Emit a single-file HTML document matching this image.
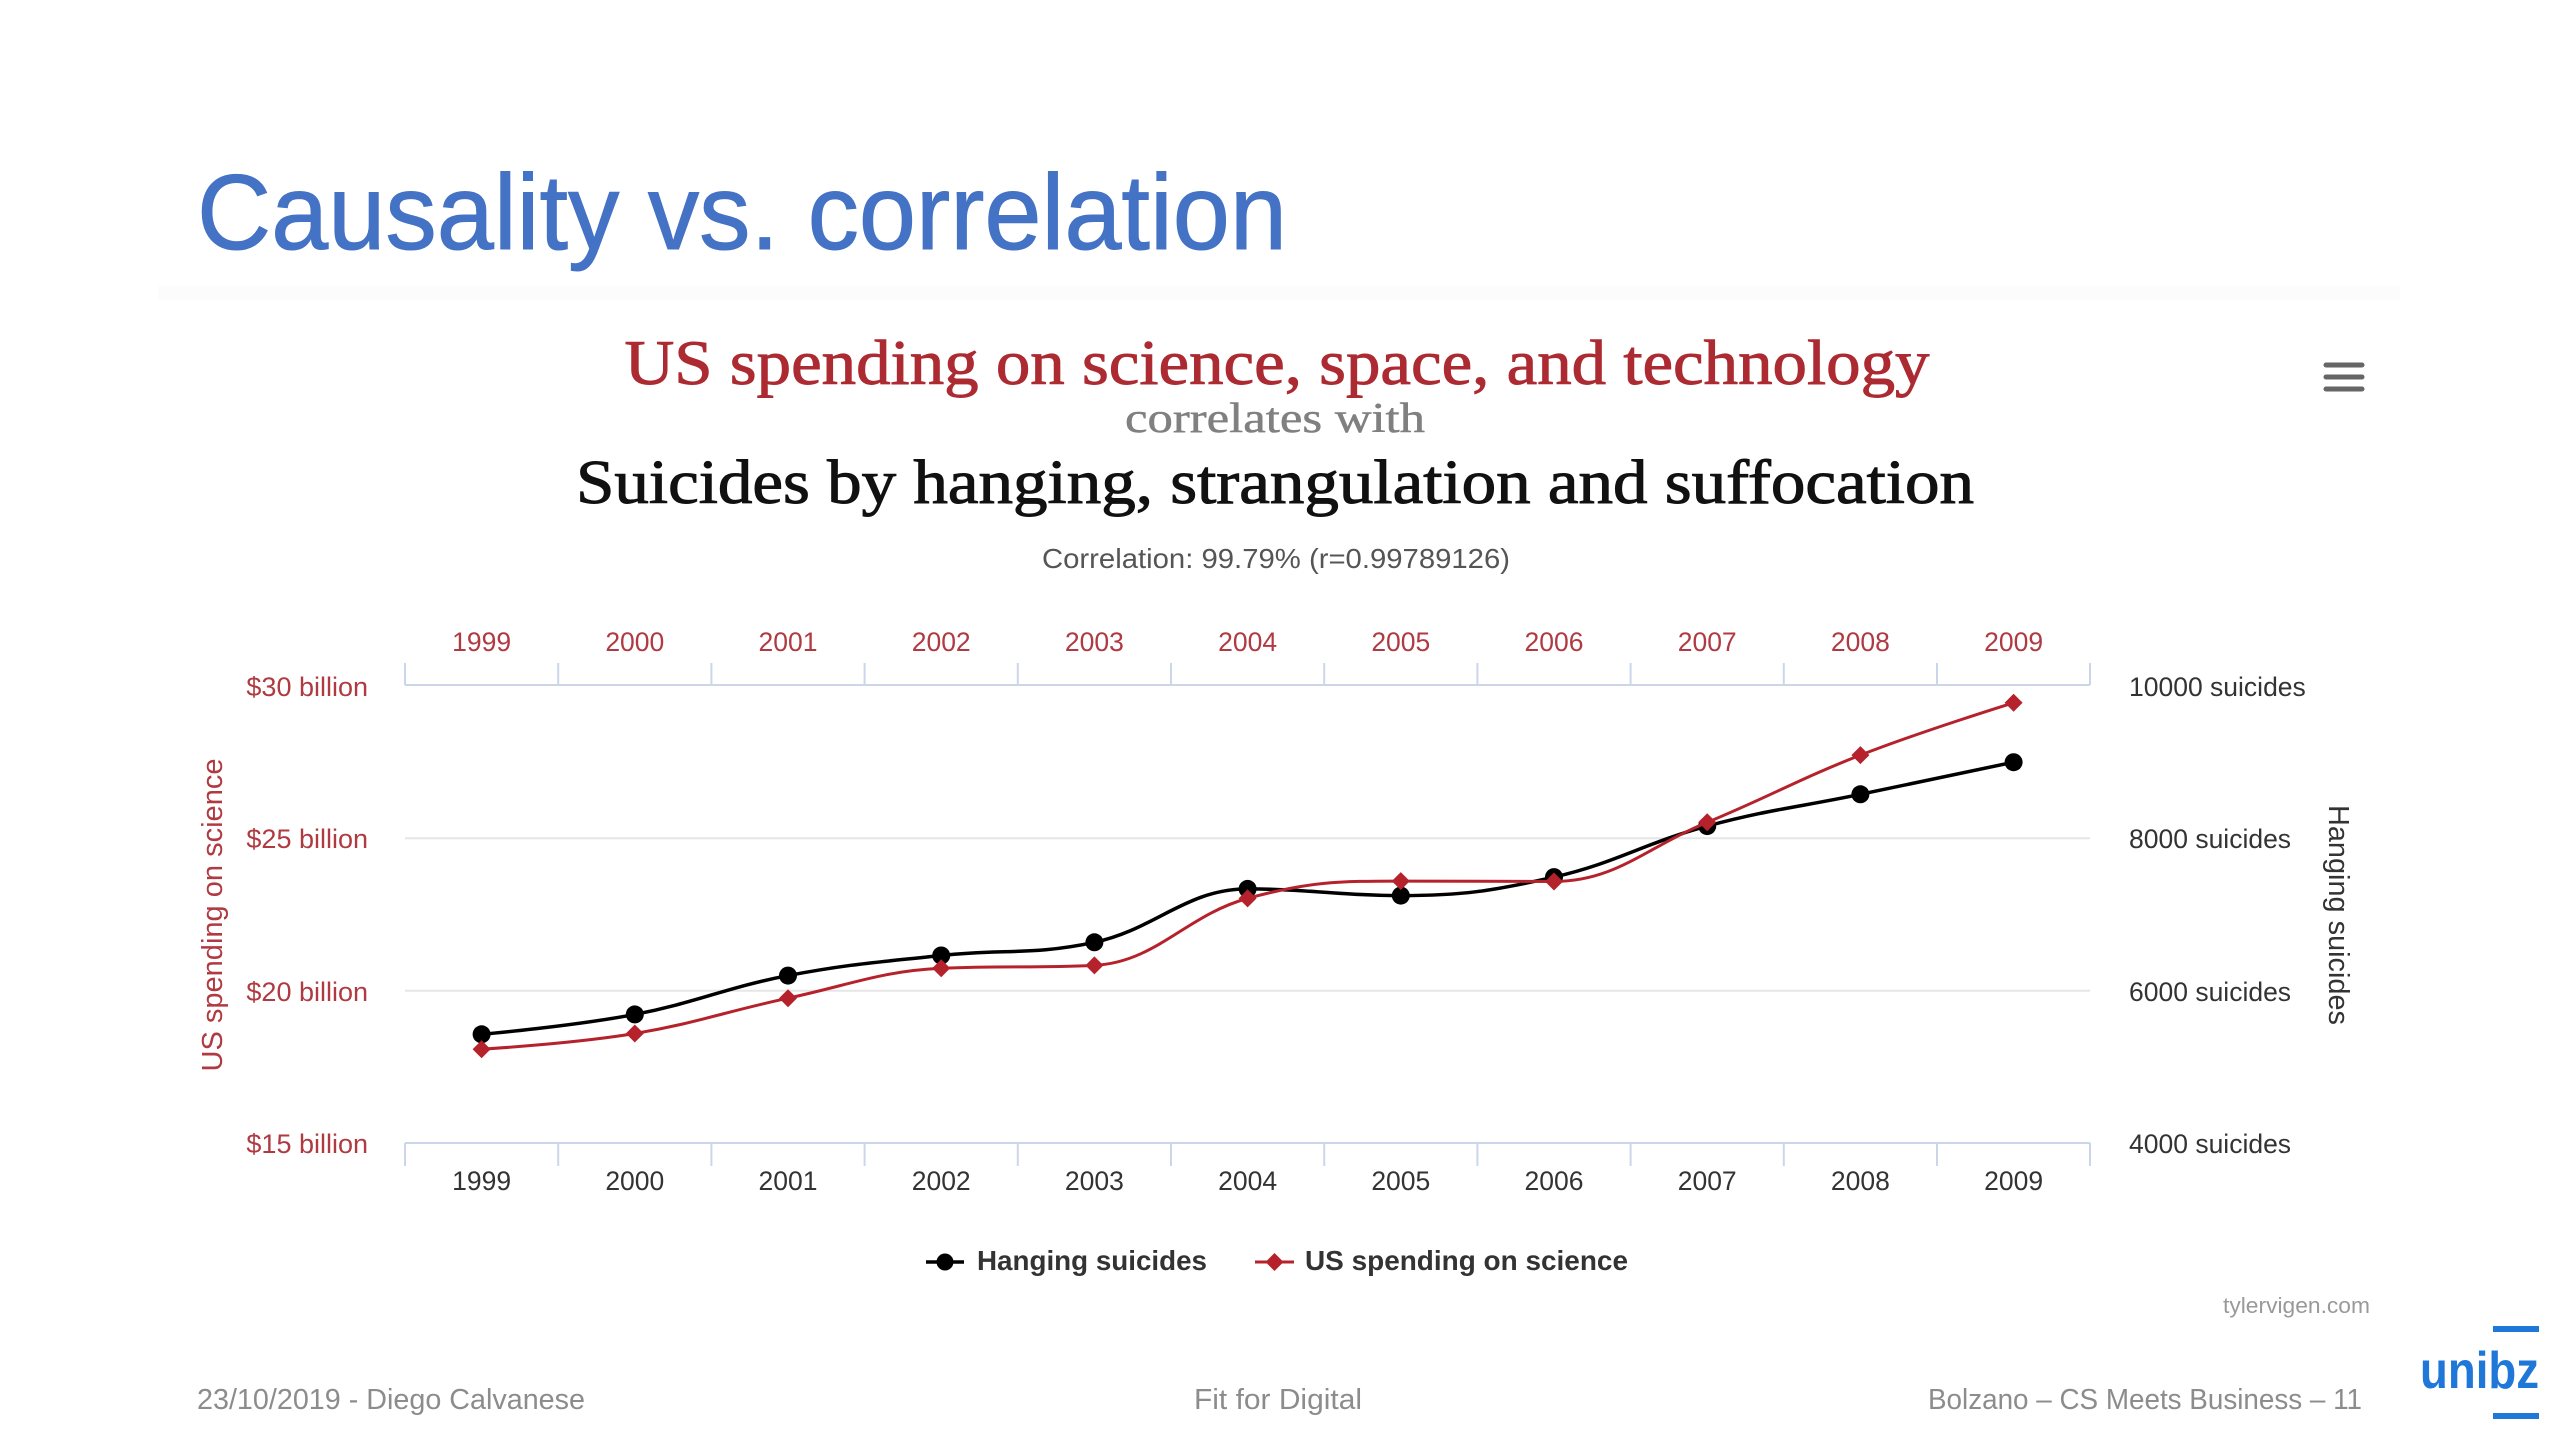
<!DOCTYPE html>
<html>
<head>
<meta charset="utf-8">
<style>
  html, body { margin: 0; padding: 0; background: #ffffff; }
  body { width: 2560px; height: 1440px; overflow: hidden; }
  svg { display: block; }
  .sans { font-family: "Liberation Sans", "DejaVu Sans", sans-serif; }
  .serif { font-family: "Liberation Serif", "DejaVu Serif", serif; }
</style>
</head>
<body>
<svg width="2560" height="1440" viewBox="0 0 2560 1440" xmlns="http://www.w3.org/2000/svg">
  <rect x="0" y="0" width="2560" height="1440" fill="#ffffff"/>

  <!-- Slide title -->
  <text class="sans" x="197" y="249" font-size="107" fill="#4472c4" stroke="#4472c4" stroke-width="1" textLength="1090" lengthAdjust="spacingAndGlyphs">Causality vs. correlation</text>

  <!-- faint chart image top band -->
  <rect x="158" y="286" width="2242" height="14" fill="#fcfcfc"/>

  <!-- Chart titles -->
  <text class="serif" x="1277" y="384" font-size="64" fill="#ac2a31" stroke="#ac2a31" stroke-width="0.9" text-anchor="middle" textLength="1305" lengthAdjust="spacingAndGlyphs">US spending on science, space, and technology</text>
  <text class="serif" x="1275" y="432" font-size="42" fill="#808080" stroke="#808080" stroke-width="0.5" text-anchor="middle" textLength="300" lengthAdjust="spacingAndGlyphs">correlates with</text>
  <text class="serif" x="1275" y="503" font-size="62" fill="#111111" stroke="#111111" stroke-width="1" text-anchor="middle" textLength="1398" lengthAdjust="spacingAndGlyphs">Suicides by hanging, strangulation and suffocation</text>
  <text class="sans" x="1276" y="568" font-size="28" fill="#555555" text-anchor="middle" textLength="468" lengthAdjust="spacingAndGlyphs">Correlation: 99.79% (r=0.99789126)</text>

  <!-- Hamburger menu -->
  <g stroke="#666666" stroke-width="5" stroke-linecap="round">
    <line x1="2326" y1="365" x2="2362" y2="365"/>
    <line x1="2326" y1="377" x2="2362" y2="377"/>
    <line x1="2326" y1="389" x2="2362" y2="389"/>
  </g>

  <!-- Gridlines -->
  <g stroke="#e6e6e6" stroke-width="2">
    <line x1="405" y1="838.3" x2="2090" y2="838.3"/>
    <line x1="405" y1="990.7" x2="2090" y2="990.7"/>
  </g>

  <!-- Top axis -->
  <g stroke="#ccd6eb" stroke-width="2">
    <line x1="405" y1="685" x2="2090" y2="685"/>
    <line x1="405" y1="663" x2="405" y2="685"/>
    <line x1="558.2" y1="663" x2="558.2" y2="685"/>
    <line x1="711.4" y1="663" x2="711.4" y2="685"/>
    <line x1="864.6" y1="663" x2="864.6" y2="685"/>
    <line x1="1017.8" y1="663" x2="1017.8" y2="685"/>
    <line x1="1171" y1="663" x2="1171" y2="685"/>
    <line x1="1324.2" y1="663" x2="1324.2" y2="685"/>
    <line x1="1477.4" y1="663" x2="1477.4" y2="685"/>
    <line x1="1630.6" y1="663" x2="1630.6" y2="685"/>
    <line x1="1783.8" y1="663" x2="1783.8" y2="685"/>
    <line x1="1937" y1="663" x2="1937" y2="685"/>
    <line x1="2090" y1="663" x2="2090" y2="685"/>
  </g>
  <!-- Bottom axis -->
  <g stroke="#ccd6eb" stroke-width="2">
    <line x1="405" y1="1143" x2="2090" y2="1143"/>
    <line x1="405" y1="1143" x2="405" y2="1166"/>
    <line x1="558.2" y1="1143" x2="558.2" y2="1166"/>
    <line x1="711.4" y1="1143" x2="711.4" y2="1166"/>
    <line x1="864.6" y1="1143" x2="864.6" y2="1166"/>
    <line x1="1017.8" y1="1143" x2="1017.8" y2="1166"/>
    <line x1="1171" y1="1143" x2="1171" y2="1166"/>
    <line x1="1324.2" y1="1143" x2="1324.2" y2="1166"/>
    <line x1="1477.4" y1="1143" x2="1477.4" y2="1166"/>
    <line x1="1630.6" y1="1143" x2="1630.6" y2="1166"/>
    <line x1="1783.8" y1="1143" x2="1783.8" y2="1166"/>
    <line x1="1937" y1="1143" x2="1937" y2="1166"/>
    <line x1="2090" y1="1143" x2="2090" y2="1166"/>
  </g>

  <!-- Top year labels (red) -->
  <g class="sans" font-size="26.5" fill="#b03a42" text-anchor="middle">
    <text x="481.6" y="651">1999</text>
    <text x="634.8" y="651">2000</text>
    <text x="788" y="651">2001</text>
    <text x="941.2" y="651">2002</text>
    <text x="1094.4" y="651">2003</text>
    <text x="1247.6" y="651">2004</text>
    <text x="1400.8" y="651">2005</text>
    <text x="1554" y="651">2006</text>
    <text x="1707.2" y="651">2007</text>
    <text x="1860.4" y="651">2008</text>
    <text x="2013.6" y="651">2009</text>
  </g>
  <!-- Bottom year labels -->
  <g class="sans" font-size="26.5" fill="#333333" text-anchor="middle">
    <text x="481.6" y="1190">1999</text>
    <text x="634.8" y="1190">2000</text>
    <text x="788" y="1190">2001</text>
    <text x="941.2" y="1190">2002</text>
    <text x="1094.4" y="1190">2003</text>
    <text x="1247.6" y="1190">2004</text>
    <text x="1400.8" y="1190">2005</text>
    <text x="1554" y="1190">2006</text>
    <text x="1707.2" y="1190">2007</text>
    <text x="1860.4" y="1190">2008</text>
    <text x="2013.6" y="1190">2009</text>
  </g>

  <!-- Left axis labels -->
  <g class="sans" font-size="27" fill="#b03a42" text-anchor="end">
    <text x="368" y="696">$30 billion</text>
    <text x="368" y="848">$25 billion</text>
    <text x="368" y="1001">$20 billion</text>
    <text x="368" y="1153">$15 billion</text>
  </g>
  <text class="sans" font-size="29" fill="#b03a42" text-anchor="middle" transform="translate(222,915) rotate(-90)" textLength="313" lengthAdjust="spacingAndGlyphs">US spending on science</text>

  <!-- Right axis labels -->
  <g class="sans" font-size="26.5" fill="#333333">
    <text x="2129" y="696">10000 suicides</text>
    <text x="2129" y="848">8000 suicides</text>
    <text x="2129" y="1001">6000 suicides</text>
    <text x="2129" y="1153">4000 suicides</text>
  </g>
  <text class="sans" font-size="29" fill="#333333" text-anchor="middle" transform="translate(2329,915) rotate(90)" textLength="220" lengthAdjust="spacingAndGlyphs">Hanging suicides</text>

  <!-- Series: Hanging suicides (black) -->
  <path id="lineB" fill="none" stroke="#000000" stroke-width="3.5" stroke-linejoin="round" stroke-linecap="round"
    d="M481.6 1034.31 L634.8 1014.43 L788 975.59 L941.2 955.48 L1094.4 942.3 L1247.6 888.91 L1400.8 895.61 L1554 877.1 L1707.2 826.07 L1860.4 794.31 L2013.6 762.17"/>
  <g fill="#000000">
    <circle cx="481.6" cy="1034.3" r="9"/>
    <circle cx="634.8" cy="1014.4" r="9"/>
    <circle cx="788" cy="975.6" r="9"/>
    <circle cx="941.2" cy="955.5" r="9"/>
    <circle cx="1094.4" cy="942.3" r="9"/>
    <circle cx="1247.6" cy="888.9" r="9"/>
    <circle cx="1400.8" cy="895.6" r="9"/>
    <circle cx="1554" cy="877.1" r="9"/>
    <circle cx="1707.2" cy="826.1" r="9"/>
    <circle cx="1860.4" cy="794.3" r="9"/>
    <circle cx="2013.6" cy="762.2" r="9"/>
  </g>

  <!-- Series: US spending on science (red) -->
  <path id="lineR" fill="none" stroke="#b5222b" stroke-width="3" stroke-linejoin="round" stroke-linecap="round"
    d="M481.6 1049.19 L634.8 1033.5 L788 998.19 L941.2 968.3 L1094.4 965.35 L1247.6 898.38 L1400.8 881.08 L1554 881.47 L1707.2 822.34 L1860.4 755.13 L2013.6 702.78"/>
  <g fill="#b5222b">
    <path d="M481.6 1040.2l9 9l-9 9l-9 -9z"/>
    <path d="M634.8 1024.5l9 9l-9 9l-9 -9z"/>
    <path d="M788 989.2l9 9l-9 9l-9 -9z"/>
    <path d="M941.2 959.3l9 9l-9 9l-9 -9z"/>
    <path d="M1094.4 956.4l9 9l-9 9l-9 -9z"/>
    <path d="M1247.6 889.4l9 9l-9 9l-9 -9z"/>
    <path d="M1400.8 872.1l9 9l-9 9l-9 -9z"/>
    <path d="M1554 872.5l9 9l-9 9l-9 -9z"/>
    <path d="M1707.2 813.3l9 9l-9 9l-9 -9z"/>
    <path d="M1860.4 746.1l9 9l-9 9l-9 -9z"/>
    <path d="M2013.6 693.8l9 9l-9 9l-9 -9z"/>
  </g>

  <!-- Legend -->
  <line x1="926" y1="1262" x2="964" y2="1262" stroke="#000000" stroke-width="3.5"/>
  <circle cx="945" cy="1262" r="8.5" fill="#000000"/>
  <text class="sans" x="977" y="1270" font-size="28" font-weight="bold" fill="#333333" textLength="230" lengthAdjust="spacingAndGlyphs">Hanging suicides</text>
  <line x1="1255" y1="1262" x2="1294" y2="1262" stroke="#b5222b" stroke-width="3"/>
  <path d="M1274.5 1253l9 9l-9 9l-9 -9z" fill="#b5222b"/>
  <text class="sans" x="1305" y="1270" font-size="28" font-weight="bold" fill="#333333" textLength="323" lengthAdjust="spacingAndGlyphs">US spending on science</text>

  <!-- Credit -->
  <text class="sans" x="2370" y="1313" font-size="22" fill="#999999" text-anchor="end" textLength="147" lengthAdjust="spacingAndGlyphs">tylervigen.com</text>

  <!-- Footer -->
  <text class="sans" x="197" y="1409" font-size="29" fill="#8c8c8c" textLength="388" lengthAdjust="spacingAndGlyphs">23/10/2019 - Diego Calvanese</text>
  <text class="sans" x="1278" y="1409" font-size="29" fill="#8c8c8c" text-anchor="middle" textLength="168" lengthAdjust="spacingAndGlyphs">Fit for Digital</text>
  <text class="sans" x="2362" y="1409" font-size="29" fill="#8c8c8c" text-anchor="end" textLength="434" lengthAdjust="spacingAndGlyphs">Bolzano – CS Meets Business – 11</text>

  <!-- unibz logo -->
  <rect x="2493" y="1326" width="46" height="6" fill="#1f78d7"/>
  <text class="sans" x="2420" y="1388" font-size="52" font-weight="bold" fill="#1f78d7" textLength="119" lengthAdjust="spacingAndGlyphs">unibz</text>
  <rect x="2493" y="1413" width="46" height="6" fill="#1f78d7"/>
</svg>
<script>
(function(){
  var X=[481.6,634.8,788,941.2,1094.4,1247.6,1400.8,1554,1707.2,1860.4,2013.6];
  var B=[1034.31,1014.43,975.59,955.48,942.3,888.91,895.61,877.1,826.07,794.31,762.17];
  var R=[1049.19,1033.5,998.19,968.3,965.35,898.38,881.08,881.47,822.34,755.13,702.78];
  function spline(xs, ys){
    var s=1.5, den=2.5;
    var d='M'+xs[0]+' '+ys[0];
    var prevR=null;
    for(var i=1;i<xs.length;i++){
      var x=xs[i], y=ys[i], lx=xs[i-1], ly=ys[i-1];
      var hasNext = i<xs.length-1;
      var lcx=x, lcy=y, rcx=null, rcy=null;
      if(hasNext){
        var nx=xs[i+1], ny=ys[i+1];
        lcx=(s*x+lx)/den; lcy=(s*y+ly)/den;
        rcx=(s*x+nx)/den; rcy=(s*y+ny)/den;
        var corr=((rcy-lcy)*(rcx-x))/(rcx-lcx)+y-rcy;
        lcy+=corr; rcy+=corr;
        if(lcy>ly && lcy>y){lcy=Math.max(ly,y); rcy=2*y-lcy;}
        else if(lcy<ly && lcy<y){lcy=Math.min(ly,y); rcy=2*y-lcy;}
        if(rcy>ny && rcy>y){rcy=Math.max(ny,y); lcy=2*y-rcy;}
        else if(rcy<ny && rcy<y){rcy=Math.min(ny,y); lcy=2*y-rcy;}
      }
      var c1x = prevR ? prevR[0] : lx, c1y = prevR ? prevR[1] : ly;
      d+=' C'+c1x.toFixed(2)+' '+c1y.toFixed(2)+' '+lcx.toFixed(2)+' '+lcy.toFixed(2)+' '+x+' '+y;
      prevR = hasNext ? [rcx,rcy] : null;
    }
    return d;
  }
  document.getElementById('lineB').setAttribute('d', spline(X,B));
  document.getElementById('lineR').setAttribute('d', spline(X,R));
})();
</script>
</body>
</html>
